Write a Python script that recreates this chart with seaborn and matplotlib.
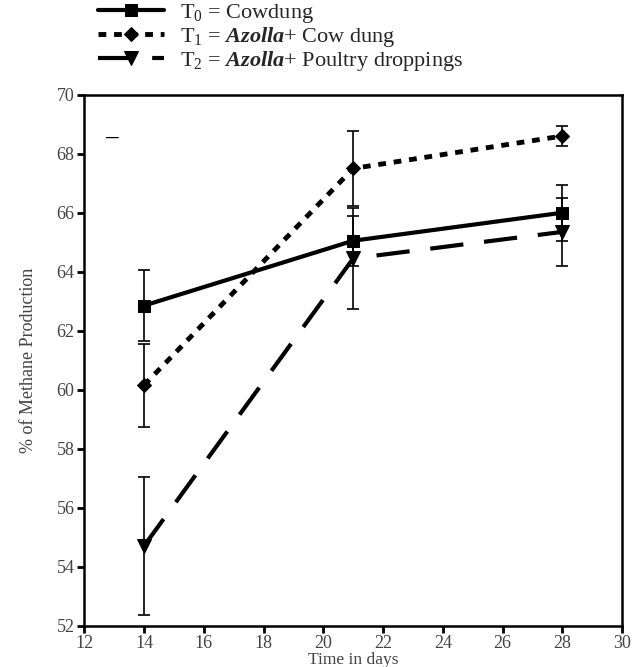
import numpy as np
import pandas as pd
import matplotlib
matplotlib.use("Agg")
import matplotlib.pyplot as plt
import seaborn as sns

days = [14, 21, 28]
t0_vals = [62.85, 65.05, 66.0]
t0_err = [1.2, 0.85, 0.95]
t1_vals = [60.15, 67.5, 68.6]
t1_err = [1.4, 1.27, 0.35]
t2_vals = [54.7, 64.45, 65.35]
t2_err = [2.35, 1.7, 1.15]
labels = [r"T$_0$ = Cowdung",
          r"T$_1$ = $\mathbfit{Azolla}$+ Cow dung",
          r"T$_2$ = $\mathbfit{Azolla}$+ Poultry droppings"]
xticks = [12, 14, 16, 18, 20, 22, 24, 26, 28, 30]
yticks = [52, 54, 56, 58, 60, 62, 64, 66, 68, 70]

sns.set_theme(style="ticks")
plt.rcParams['font.family'] = ['Liberation Serif', 'DejaVu Serif']
plt.rcParams['mathtext.fontset'] = 'custom'
plt.rcParams['mathtext.rm'] = 'Liberation Serif'
plt.rcParams['mathtext.it'] = 'Liberation Serif:italic'
plt.rcParams['mathtext.bf'] = 'Liberation Serif:bold'
plt.rcParams['mathtext.bfit'] = 'Liberation Serif:italic:bold'

fig = plt.figure(figsize=(6.33, 6.67), dpi=100)
ax = fig.add_axes([0.133, 0.062, 0.850, 0.796])

series = [(t0_vals, t0_err, 's', (None, None), 3.0, 9),
          (t1_vals, t1_err, 'D', (1.6, 1.6), 3.5, 7),
          (t2_vals, t2_err, 'v', (8, 5), 3.0, 10)]

handles = []
for (vals, err, mk, dash, lw, ms), lab in zip(series, labels):
    df = pd.DataFrame({"day": days, "val": vals})
    ax.errorbar(days, vals, yerr=err, fmt='none', ecolor='black',
                elinewidth=1.2, capsize=4, capthick=1.2, zorder=2)
    sns.lineplot(data=df, x="day", y="val", ax=ax, color='black',
                 marker=mk, markersize=ms, linewidth=lw, zorder=3,
                 markeredgecolor='black', markerfacecolor='black',
                 legend=False)
    line = ax.lines[-1]
    if dash[0] is not None:
        line.set_dashes(dash)
    line.set_label(lab)
    handles.append(line)

ax.set_xlim(12, 30)
ax.set_ylim(52, 70)
ax.set_xticks(xticks)
ax.set_yticks(yticks)
ax.tick_params(axis='both', direction='out', length=5, width=2,
               labelsize=13, labelcolor='#444444', color='black', pad=2)
for sp in ax.spines.values():
    sp.set_visible(True)
    sp.set_linewidth(1.8)
    sp.set_color('black')
ax.set_xlabel("Time in days", fontsize=12.5, color='#444444', labelpad=0)
ax.set_ylabel("% of Methane Production", fontsize=13, color='#444444', labelpad=14)

ax.text(0.05, 0.92, "–", transform=ax.transAxes, fontsize=18,
        fontweight='bold', ha='center', va='center', color='black')

fig.legend(handles=handles, labels=labels, loc='upper left',
           bbox_to_anchor=(0.14, 1.01), frameon=False, fontsize=16,
           handlelength=3.0, handletextpad=0.7, labelspacing=0.0,
           borderaxespad=0.0)

fig.savefig("out.png", dpi=100)
